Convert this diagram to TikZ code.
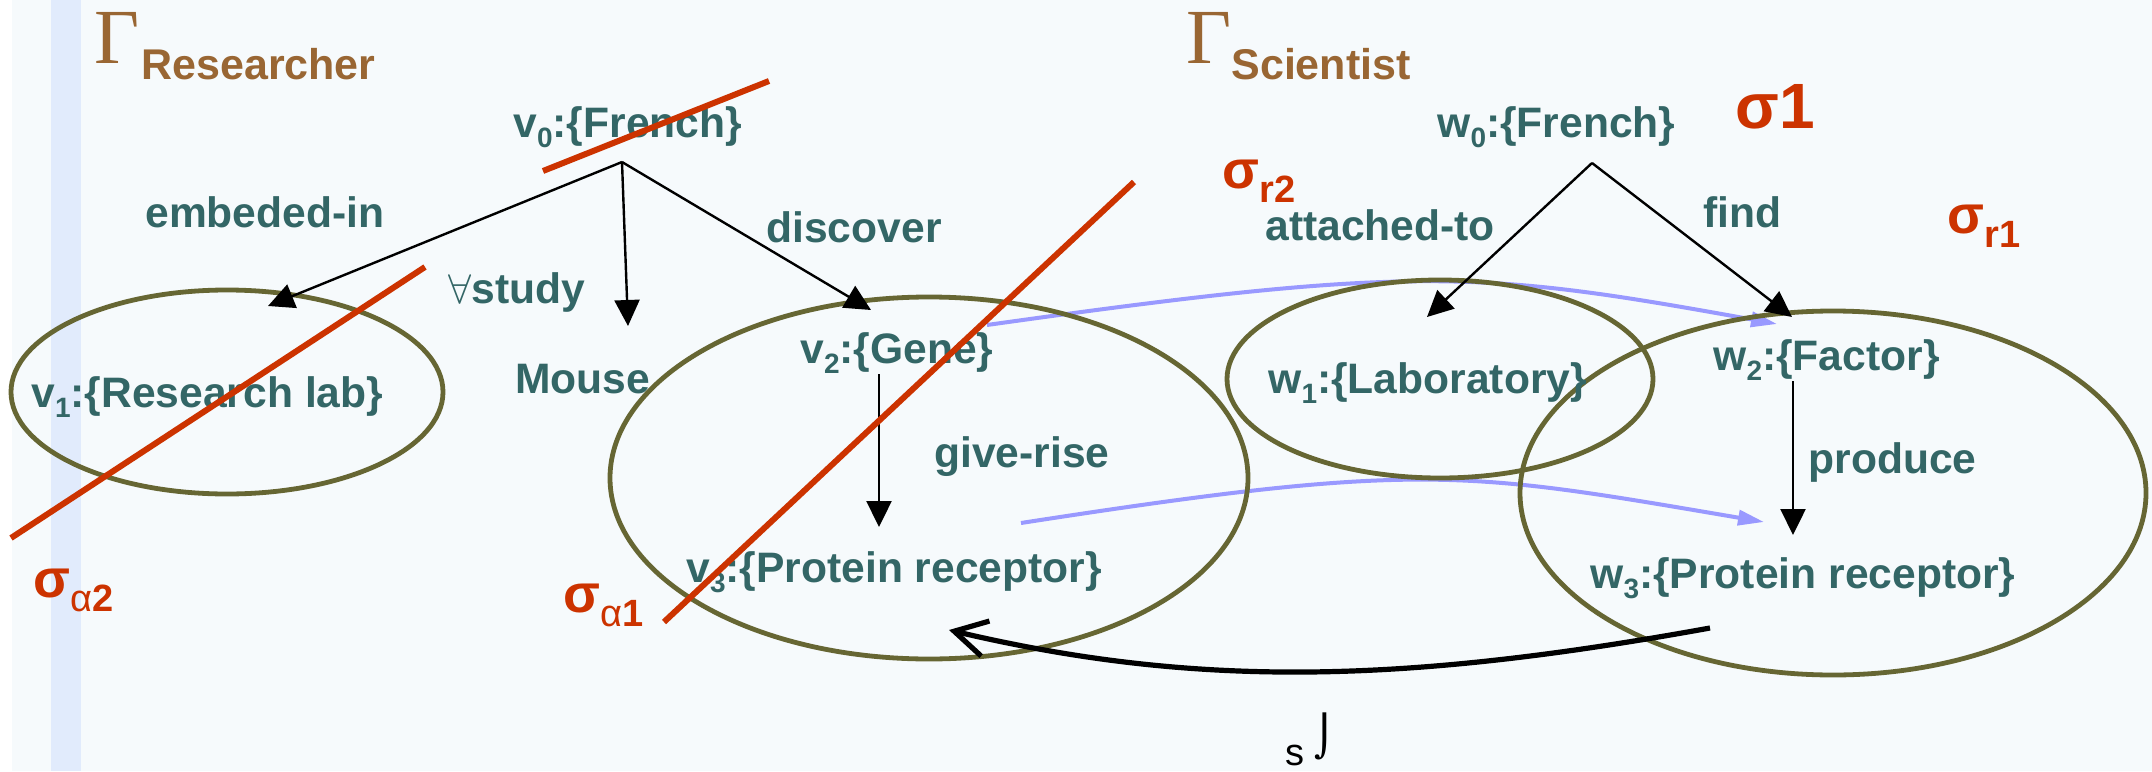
\documentclass[tikz,border=0pt]{standalone}
\usepackage{fontspec}
\setmainfont{Liberation Sans}
\newfontfamily\serifG{Liberation Serif}
\newfontfamily\dejavu{DejaVu Sans}
\usetikzlibrary{arrows.meta,shapes.geometric}
\definecolor{teal1}{HTML}{336666}
\definecolor{brown1}{HTML}{996633}
\definecolor{red1}{HTML}{CC3300}
\definecolor{olive1}{HTML}{666633}
\definecolor{blue1}{HTML}{9999FF}
\definecolor{bg}{HTML}{F6FAFC}
\definecolor{strip}{HTML}{E1EBFC}
\newcommand\sbs[1]{\raisebox{-5pt}{\fontsize{14}{14}\selectfont #1}}
\newcommand\sgm[1]{{\bfseries\fontsize{27}{27}\selectfont σ}\raisebox{-7pt}{\fontsize{19}{19}\selectfont\bfseries #1}}
\begin{document}
\begin{tikzpicture}[x=0.5pt,y=-0.5pt,
  lbl/.style={anchor=base west, inner sep=0pt, text=teal1, font=\fontsize{21.3}{21.3}\selectfont\bfseries},
  sig/.style={anchor=base west, inner sep=0pt, text=red1},
  ttl/.style={anchor=base west, inner sep=0pt, text=brown1, font=\fontsize{21.5}{21.5}\selectfont\bfseries},
  gam/.style={anchor=base west, inner sep=0pt, text=brown1, font=\serifG\fontsize{39}{39}\selectfont},
  ell/.style={draw=olive1, line width=2.4pt, ellipse, inner sep=0pt},
  arr/.style={line width=1.2pt, -{Triangle[length=13pt,width=12.5pt]}},
  blu/.style={draw=blue1, line width=2pt, -{Triangle[length=13pt,width=7.5pt]}},
  cut/.style={draw=red1, line width=3pt},
  back/.style={line width=2.6pt, -{Straight Barb[length=16pt,width=18pt]}}]
\useasboundingbox (0,0) rectangle (2152,771);
\fill[white] (0,0) rectangle (2152,771);
\fill[bg] (12,0) rectangle (2152,771);
\fill[strip] (51,0) rectangle (81,771);

% blue mapping arrows
\coordinate (ba) at (987,325);
\coordinate (bb) at (1777,324);
\coordinate (ca) at (1021,523);
\coordinate (cb) at (1764,522);
\draw[blu] (ba) .. controls (1413,265) and (1479,270) .. (bb);
\draw[blu] (ca) .. controls (1421,461) and (1464,471) .. (cb);

% ellipses
\node[ell, minimum width=216pt, minimum height=102pt] (e1) at (227,392) {};
\node[ell, minimum width=319pt, minimum height=181pt] (e2) at (929,478) {};
\node[ell, minimum width=213pt, minimum height=99pt] (e3) at (1440,379) {};
\node[ell, minimum width=313pt, minimum height=182pt] (e4) at (1833,493) {};

% titles
\node[gam] (gR) at (94,63) {Γ};
\node[ttl] (tR) at (141,79) {Researcher};
\node[gam] (gS) at (1186,63) {Γ};
\node[ttl] (tS) at (1231,79) {Scientist};

% labels
\node[lbl] (v0) at (513,137) {v\sbs{0}:\{French\}};
\node[lbl] (emb) at (145,227) {embeded-in};
\node[lbl] (disc) at (766,242) {discover};
\node[lbl] (stud) at (448,303) {$\forall$study};
\node[lbl] (mouse) at (515,393) {Mouse};
\node[lbl] (v1) at (31,407) {v\sbs{1}:\{Research lab\}};
\node[lbl] (v2) at (800,363) {v\sbs{2}:\{Gene\}};
\node[lbl] (give) at (934,467) {give-rise};
\node[lbl] (v3) at (686,582) {v\sbs{3}:\{Protein receptor\}};
\node[lbl] (w0) at (1437,137) {w\sbs{0}:\{French\}};
\node[lbl] (att) at (1265,240) {attached-to};
\node[lbl] (find) at (1703,227) {find};
\node[lbl] (w1) at (1268,393) {w\sbs{1}:\{Laboratory\}};
\node[lbl] (w2) at (1713,370) {w\sbs{2}:\{Factor\}};
\node[lbl] (prod) at (1808,473) {produce};
\node[lbl] (w3) at (1590,588) {w\sbs{3}:\{Protein receptor\}};

% sigma labels
\node[sig] (s1) at (1735,128) {\bfseries\fontsize{32}{32}\selectfont σ1};
\node[sig] (sr2) at (1222,188) {\sgm{r2}};
\node[sig] (sr1) at (1947,233) {\sgm{r1}};
\node[sig] (sa2) at (33,597) {\sgm{{\mdseries α}2}};
\node[sig] (sa1) at (563,612) {\sgm{{\mdseries α}1}};

% bottom symbol
\node[anchor=base west, inner sep=0pt, font=\fontsize{19}{19}\selectfont] (sx) at (1285,765) {s};
\node[anchor=south west, inner sep=0pt, font=\dejavu\fontsize{20}{20}\selectfont] (jx) at (1314,760) {⌡};

% thin black arrows
\coordinate (a0) at (622,162);
\coordinate (t1) at (268,306);
\coordinate (tm) at (628,326);
\coordinate (t2) at (871,310);
\coordinate (b0) at (1592,163);
\coordinate (tw1) at (1427,317);
\coordinate (tw2) at (1792,317);
\coordinate (g0) at (879,374);
\coordinate (g1) at (879,527);
\coordinate (f0) at (1793,381);
\coordinate (f1) at (1793,535);
\draw[arr] (a0) -- (t1);
\draw[arr] (a0) -- (tm);
\draw[arr] (a0) -- (t2);
\draw[arr] (b0) -- (tw1);
\draw[arr] (b0) -- (tw2);
\draw[arr] (g0) -- (g1);
\draw[arr] (f0) -- (f1);

% thick back arrow
\coordinate (ka) at (1710,628);
\coordinate (kb) at (949,630);
\draw[back] (ka) .. controls (1406,683) and (1199,689) .. (kb);

% red cut lines
\coordinate (r1a) at (543,171);
\coordinate (r1b) at (769,81);
\coordinate (r2a) at (11,538);
\coordinate (r2b) at (425,267);
\coordinate (r3a) at (664,622);
\coordinate (r3b) at (1134,182);
\draw[cut] (r1a) -- (r1b);
\draw[cut] (r2a) -- (r2b);
\draw[cut] (r3a) -- (r3b);
\end{tikzpicture}
\end{document}
